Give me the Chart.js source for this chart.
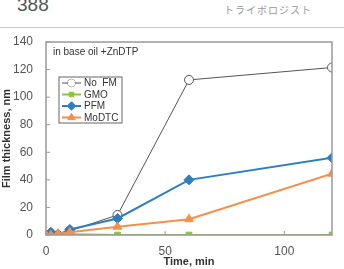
<!DOCTYPE html>
<html>
<head>
<meta charset="utf-8">
<script src="https://cdn.jsdelivr.net/npm/chart.js@4"></script>
<style>
  body { margin: 0; background: #fff; width: 344px; height: 269px; overflow: hidden; position: relative; font-family: "Liberation Sans", Arial, sans-serif; }
  #page { position: absolute; left: 17px; top: -6px; font-size: 19px; color: #555; }
  #journal { position: absolute; left: 224px; top: 2px; font-size: 10px; color: #999; font-family: "Noto Sans CJK JP", sans-serif; letter-spacing: 1px; }
  #rule { position: absolute; left: 0; top: 27px; width: 344px; height: 0; border-top: 1.5px solid #ccc; }
  #wrap { position: absolute; left: 0; top: 0; width: 344px; height: 269px; }
</style>
</head>
<body>
<div id="page">388</div>
<div id="journal">トライボロジスト</div>
<div id="rule"></div>
<div id="wrap"><canvas id="c"></canvas></div>
<script>
// time points, min
const noFmTime = [0, 2, 5, 10, 30, 60, 120];
const noFm = [0, 1, 0, 3, 14.5, 112.5, 121.5];
const gmoTime = [0, 10, 30, 60, 120];
const gmo = [0, 0.5, 0, 0, 0];
const pfmTime = [0, 2, 5, 10, 30, 60, 120];
const pfm = [0, 2, 0, 4, 12, 40, 56];
const moTime = [0, 2, 5, 10, 30, 60, 120];
const modtc = [0, 0, 1, 2, 6, 11.5, 44.5];
const yTicks = [0, 20, 40, 60, 80, 100, 120, 140];
const xTicks = [0, 50, 100];

function pts(xs, ys) {
    return xs.map((x, i) => ({ x: x, y: ys[i] }));
}

const series = [
    { label: 'No  FM', data: pts(noFmTime, noFm), color: '#555', fill: '#fff', style: 'circle', w: 1, r: 4.5 },
    { label: 'GMO', data: pts(gmoTime, gmo), color: '#8dc540', fill: '#8dc540', style: 'rect', w: 2, r: 4 },
    { label: 'PFM', data: pts(pfmTime, pfm), color: '#2e7fbf', fill: '#2e7fbf', style: 'rectRot', w: 2, r: 5 },
    { label: 'MoDTC', data: pts(moTime, modtc), color: '#f58f4c', fill: '#f58f4c', style: 'triangle', w: 2, r: 5 }
];

const boxPlugin = {
    id: 'box',
    afterDraw(chart) {
        const ctx = chart.ctx;
        const a = chart.chartArea;
        const xs = chart.scales.x, ys = chart.scales.y;
        ctx.save();
        ctx.strokeStyle = '#999';
        ctx.lineWidth = 1.5;
        ctx.strokeRect(a.left, a.top, a.right - a.left, a.bottom - a.top);
        ctx.lineWidth = 1;
        ctx.beginPath();
        yTicks.forEach(v => {
            const p = ys.getPixelForValue(v);
            ctx.moveTo(a.left, p); ctx.lineTo(a.left + 4, p);
        });
        xTicks.forEach(v => {
            const p = xs.getPixelForValue(v);
            ctx.moveTo(p, a.bottom); ctx.lineTo(p, a.bottom - 4);
        });
        ctx.stroke();

        ctx.fillStyle = '#333';
        ctx.font = '10px "Liberation Sans", Arial, sans-serif';
        ctx.textBaseline = 'middle';
        ctx.fillText('in base oil +ZnDTP', a.left + 7, 52);

        // legend
        const lx = 59, ly = 77, lw = 63, lh = 46;
        ctx.fillStyle = '#fff';
        ctx.fillRect(lx, ly, lw, lh);
        ctx.strokeStyle = '#666';
        ctx.lineWidth = 1;
        ctx.strokeRect(lx, ly, lw, lh);
        series.forEach((s, i) => {
            const y = ly + 6 + i * 11.5;
            ctx.strokeStyle = s.color;
            ctx.lineWidth = s.w;
            ctx.beginPath();
            ctx.moveTo(lx + 3, y); ctx.lineTo(lx + 22, y);
            ctx.stroke();
            ctx.fillStyle = s.fill;
            ctx.lineWidth = 1;
            Chart.helpers.drawPoint(ctx, { pointStyle: s.style, radius: s.r - 0.8, borderWidth: 1 }, lx + 12.5, y);
            ctx.fill();
            ctx.fillStyle = '#333';
            ctx.font = '10px "Liberation Sans", Arial, sans-serif';
            ctx.fillText(s.label, lx + 25, y + 0.5);
        });
        ctx.restore();
    }
};

new Chart(document.getElementById('c'), {
    type: 'scatter',
    data: {
        datasets: series.map(s => ({
            label: s.label,
            data: s.data,
            showLine: true,
            borderColor: s.color,
            borderWidth: s.w,
            backgroundColor: s.fill,
            pointStyle: s.style,
            pointRadius: s.r,
            pointBorderColor: s.color,
            pointBackgroundColor: s.fill,
            pointBorderWidth: 1,
            tension: 0
        })).reverse()
    },
    options: {
        responsive: true,
        maintainAspectRatio: false,
        animation: false,
        layout: { padding: { top: 42, right: 12, left: 0, bottom: 0 } },
        plugins: { legend: { display: false }, tooltip: { enabled: false } },
        scales: {
            x: {
                type: 'linear', min: 0, max: 120,
                afterFit(scale) { scale.height = 34; },
                afterBuildTicks(scale) { scale.ticks = xTicks.map(v => ({ value: v })); },
                grid: { display: false },
                border: { display: false },
                ticks: { color: '#555', font: { size: 12, family: '"Liberation Sans", Arial' }, padding: 1 },
                title: { display: true, text: 'Time, min', color: '#333', padding: { top: 0, bottom: 0 },
                         font: { size: 11, weight: 'bold', family: '"Liberation Sans", Arial' } }
            },
            y: {
                min: 0, max: 140,
                afterFit(scale) { scale.width = 46; },
                afterBuildTicks(scale) { scale.ticks = yTicks.map(v => ({ value: v })); },
                grid: { display: false },
                border: { display: false },
                ticks: { color: '#555', font: { size: 12, family: '"Liberation Sans", Arial' }, padding: 5 },
                title: { display: true, text: 'Film thickness, nm', color: '#333', padding: { top: 0, bottom: 2 },
                         font: { size: 11, weight: 'bold', family: '"Liberation Sans", Arial' } }
            }
        }
    },
    plugins: [boxPlugin]
});
</script>
</body>
</html>
